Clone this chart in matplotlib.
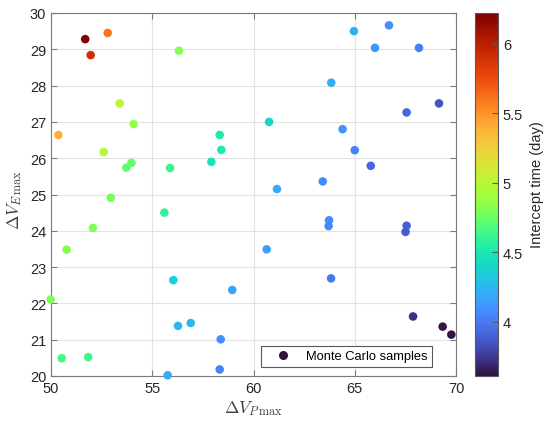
import numpy as np
import matplotlib
matplotlib.use("Agg")
from matplotlib import pyplot as plt
from matplotlib.lines import Line2D

# Monte Carlo samples
dvp_max = [51.69, 51.96, 52.80, 56.32, 53.39, 54.08, 50.36, 52.60, 53.97, 53.72,
           52.95, 55.88, 55.60, 58.33, 58.41, 57.92, 60.77, 61.16,
           64.96, 66.69, 66.00, 68.17, 63.84, 69.16, 67.56, 64.40, 65.00, 65.79, 63.42,
           52.07, 50.77, 49.98, 50.53, 51.84, 56.04, 58.95, 56.27, 56.90, 58.38,
           55.76, 58.33, 60.65,
           63.73, 63.71, 67.56, 67.51, 63.83, 67.88, 69.34, 69.77]
dve_max = [29.28, 28.84, 29.45, 28.96, 27.51, 26.94, 26.64, 26.17, 25.87, 25.74,
           24.91, 25.73, 24.50, 26.64, 26.23, 25.90, 27.00, 25.15,
           29.50, 29.66, 29.04, 29.04, 28.08, 27.51, 27.26, 26.80, 26.22, 25.79, 25.36,
           24.08, 23.48, 22.11, 20.49, 20.52, 22.64, 22.37, 21.38, 21.46, 21.01,
           20.02, 20.18, 23.49,
           24.29, 24.13, 24.14, 23.97, 22.69, 21.64, 21.36, 21.14]
t_intercept = [6.20, 5.90, 5.60, 4.82, 5.02, 4.86, 5.40, 4.98, 4.74, 4.72,
               4.79, 4.62, 4.58, 4.52, 4.50, 4.47, 4.38, 4.20,
               4.22, 4.07, 4.10, 4.02, 4.20, 3.85, 3.92, 4.10, 4.03, 3.92, 4.06,
               4.80, 4.82, 4.80, 4.66, 4.64, 4.36, 4.18, 4.25, 4.25, 4.08,
               4.22, 4.03, 4.15,
               4.08, 4.06, 3.90, 3.88, 3.99, 3.72, 3.64, 3.63]

vmin, vmax = 3.61, 6.22
cb_ticks = [4, 4.5, 5, 5.5, 6]

plt.rcParams['font.family'] = ['Liberation Sans', 'DejaVu Sans']
plt.rcParams['mathtext.fontset'] = 'cm'

fig = plt.figure(figsize=(5.5, 4.27), dpi=100)
W, H = 550, 427
ax = fig.add_axes([51 / W, 1 - 377 / H, 405 / W, 363 / H])
cax = fig.add_axes([475 / W, 1 - 377 / H, 23 / W, 363 / H])

cmap = plt.get_cmap('turbo')
sc = ax.scatter(dvp_max, dve_max, c=t_intercept, cmap=cmap, vmin=vmin, vmax=vmax,
                s=38, edgecolors='none', zorder=3, clip_on=False)

ax.set_xlim(50, 70)
ax.set_ylim(20, 30)
ax.set_xticks([50, 55, 60, 65, 70])
ax.set_yticks(range(20, 31))
ax.grid(True, color='#e3e3e3', linewidth=0.8)
ax.set_axisbelow(True)
for sp in ax.spines.values():
    sp.set_color('#7a7a7a')
    sp.set_linewidth(0.8)
ax.tick_params(direction='in', length=4, color='#7a7a7a', labelsize=10.5,
               labelcolor='#262626', top=True, right=True, width=0.8)
ax.set_xlabel(r'$\Delta V_{P\,\max}$', fontsize=12.5, color='#404040', labelpad=2)
ax.set_ylabel(r'$\Delta V_{E\,\max}$', fontsize=12.5, color='#404040')
ax.yaxis.set_label_coords(-0.066, 0.488)

handle = Line2D([], [], marker='o', linestyle='none', markersize=6.5,
                markerfacecolor=cmap(0.0), markeredgecolor='none')
leg = ax.legend([handle], ['Monte Carlo samples'], loc='lower right',
                bbox_to_anchor=(0.941, 0.025), borderaxespad=0, fancybox=False,
                framealpha=1, edgecolor='#5a5a5a', fontsize=9.3, handletextpad=0.35,
                borderpad=0.35, handlelength=2.8)
leg.get_frame().set_linewidth(0.8)

cb = fig.colorbar(sc, cax=cax, ticks=cb_ticks)
cb.ax.tick_params(direction='in', length=4, labelsize=10.5, labelcolor='#262626',
                  color='#5a5a5a', width=0.8)
cb.outline.set_edgecolor('#5a5a5a')
cb.outline.set_linewidth(0.8)
cb.ax.set_yticklabels(['4', '4.5', '5', '5.5', '6'])
cb.set_label('Intercept time (day)', fontsize=10.5, color='#262626')
cb.ax.yaxis.set_label_coords(2.4, 0.529)

fig.savefig('out.png', dpi=100)
